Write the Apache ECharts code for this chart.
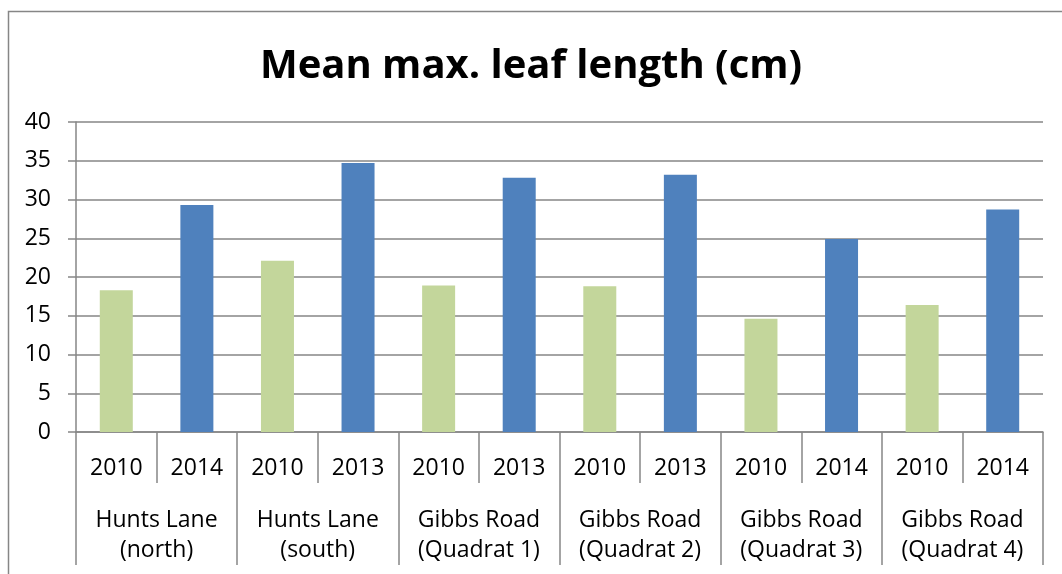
<!DOCTYPE html>
<html>
<head>
<meta charset="utf-8">
<script src="https://cdn.jsdelivr.net/npm/echarts@6/dist/echarts.min.js"></script>
<style>
  html, body { margin: 0; padding: 0; background: #fff; }
  #chart { width: 1062px; height: 574px; }
</style>
</head>
<body>
<div id="chart"></div>
<script>
// site names (two-line labels)
var sites = ['Hunts Lane\n(north)', 'Hunts Lane\n(south)', 'Gibbs Road\n(Quadrat 1)',
  'Gibbs Road\n(Quadrat 2)', 'Gibbs Road\n(Quadrat 3)', 'Gibbs Road\n(Quadrat 4)'];
// year of each bar, in order
var years = ['2010', '2014', '2010', '2013', '2010', '2013', '2010', '2013', '2010', '2014', '2010', '2014'];
// first survey (2010) per site
var firstSurvey = [18.3, 22.1, 18.9, 18.8, 14.6, 16.4];
// later survey (2013/2014) per site
var laterSurvey = [29.3, 34.7, 32.8, 33.2, 24.9, 28.7];
var yTicks = [0, 5, 10, 15, 20, 25, 30, 35, 40];

var green = '#C3D69B';
var blue = '#4F81BD';
var grey = '#868686';
var font = 'Open Sans';

// interleave the two surveys, bar colour by survey
var barData = [];
for (var i = 0; i < sites.length; i++) {
  barData.push({ value: firstSurvey[i], itemStyle: { color: green } });
  barData.push({ value: laterSurvey[i], itemStyle: { color: blue } });
}

var myChart = echarts.init(document.getElementById('chart'));
var option = {
  animation: false,
  title: {
    text: 'Mean max. leaf length (cm)',
    left: 'center',
    top: 42,
    textStyle: { fontFamily: font, fontWeight: 'bold', fontSize: 40, color: '#000' }
  },
  graphic: [{
    type: 'rect',
    shape: { x: 8.5, y: 11.5, width: 1100, height: 700 },
    style: { fill: 'none', stroke: grey, lineWidth: 1.5 },
    silent: true
  }],
  grid: { left: 76, right: 19, top: 122, bottom: 142 },
  xAxis: [
    {
      type: 'category',
      data: years,
      position: 'bottom',
      axisLine: { show: true, lineStyle: { color: grey, width: 1.5 } },
      axisTick: { show: true, interval: 0, length: 51, lineStyle: { color: grey, width: 1.5 } },
      axisLabel: { interval: 0, margin: 23, fontFamily: font, fontSize: 23, color: '#000', lineHeight: 26 }
    },
    {
      type: 'category',
      data: sites,
      position: 'bottom',
      axisLine: { show: false },
      axisTick: { show: true, interval: 0, length: 133, lineStyle: { color: grey, width: 1.5 } },
      axisLabel: { interval: 0, margin: 73, fontFamily: font, fontSize: 23, color: '#000', lineHeight: 30 }
    }
  ],
  yAxis: {
    type: 'value',
    min: yTicks[0],
    max: yTicks[yTicks.length - 1],
    interval: 5,
    axisLine: { show: true, lineStyle: { color: grey, width: 1.5 } },
    axisTick: { show: true, length: 8, lineStyle: { color: grey, width: 1.5 } },
    axisLabel: { margin: 25, fontFamily: font, fontSize: 23, color: '#000' },
    splitLine: { lineStyle: { color: grey, width: 1.5 } }
  },
  series: [{
    type: 'bar',
    xAxisIndex: 0,
    barWidth: 33,
    data: barData
  }]
};
myChart.setOption(option);
</script>
</body>
</html>
